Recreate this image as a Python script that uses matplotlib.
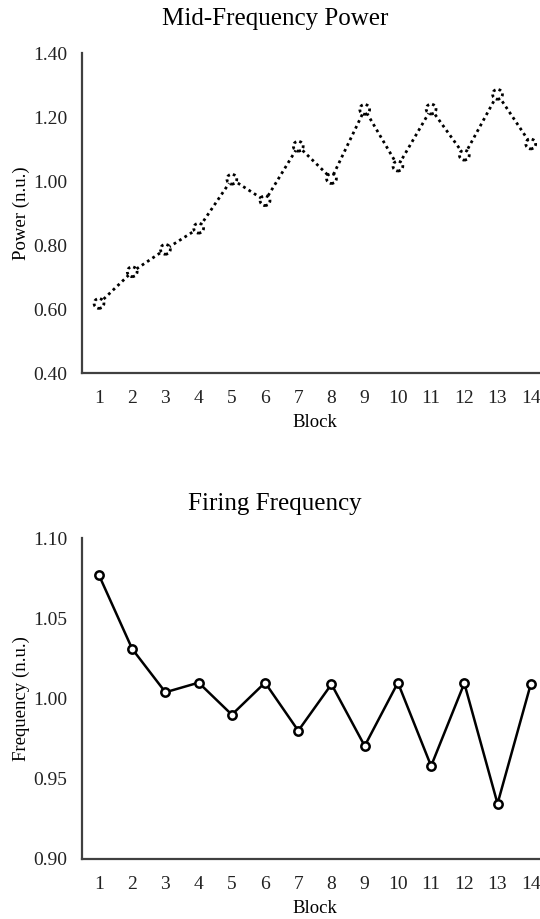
import matplotlib
matplotlib.use("Agg")
import matplotlib.pyplot as plt

plt.rcParams['font.family'] = ['Liberation Serif', 'DejaVu Serif']

blocks = list(range(1, 15))
block_labels = [str(b) for b in blocks]

# mid-frequency power per block (normalised units)
power = [0.618, 0.717, 0.787, 0.853, 1.006, 0.939, 1.109,
         1.008, 1.224, 1.047, 1.225, 1.081, 1.271, 1.116]
power_ticks = [0.40, 0.60, 0.80, 1.00, 1.20, 1.40]

# firing frequency per block (normalised units)
firing = [1.077, 1.031, 1.004, 1.010, 0.990, 1.010, 0.980,
          1.009, 0.9705, 1.010, 0.958, 1.0096, 0.9345, 1.009]
freq_ticks = [0.90, 0.95, 1.00, 1.05, 1.10]

fig = plt.figure(figsize=(5.4, 9.19), dpi=100)
ax1 = fig.add_axes([0.1526, 0.5938, 0.861, 0.3485])
ax2 = fig.add_axes([0.1526, 0.0653, 0.861, 0.3489])

spine_col = '#404040'
for ax in (ax1, ax2):
    for s in ('top', 'right'):
        ax.spines[s].set_visible(False)
    for s in ('left', 'bottom'):
        ax.spines[s].set_color(spine_col)
        ax.spines[s].set_linewidth(1.6)
    ax.set_xlim(0.5, 14.5)
    ax.set_xticks(blocks)
    ax.set_xticklabels(block_labels)
    ax.tick_params(axis='both', length=0, labelsize=14, colors='#222222')
    ax.tick_params(axis='y', pad=11)
    ax.tick_params(axis='x', pad=12)
    ax.set_xlabel('Block', fontsize=13.5, labelpad=5)

# top panel: dotted line with dotted-edge markers
ax1.plot(blocks, power, color='black', linestyle=(0, (1, 1.3)), linewidth=2.0, zorder=2)
ax1.scatter(blocks, power, s=50, facecolors='white', edgecolors='black',
            linewidths=2.0, linestyle=(0, (1, 1.1)), zorder=3)
ax1.set_ylim(0.40, 1.40)
ax1.set_yticks(power_ticks)
ax1.set_yticklabels(['%.2f' % v for v in power_ticks])
ax1.set_ylabel('Power (n.u.)', fontsize=13.5)
ax1.yaxis.set_label_coords(-0.113, 0.5)

# bottom panel: solid line with open circles
ax2.plot(blocks, firing, color='black', linewidth=1.8, marker='o', markersize=6,
         markerfacecolor='white', markeredgecolor='black', markeredgewidth=1.8)
ax2.set_ylim(0.90, 1.10)
ax2.set_yticks(freq_ticks)
ax2.set_yticklabels(['%.2f' % v for v in freq_ticks])
ax2.set_ylabel('Frequency (n.u.)', fontsize=13.5)
ax2.yaxis.set_label_coords(-0.113, 0.5)

fig.text(0.509, 1 - 19 / 919, 'Mid-Frequency Power', ha='center', va='center', fontsize=18)
fig.text(0.509, 1 - 504 / 919, 'Firing Frequency', ha='center', va='center', fontsize=18)

fig.savefig('out.png', dpi=100, facecolor='white')
